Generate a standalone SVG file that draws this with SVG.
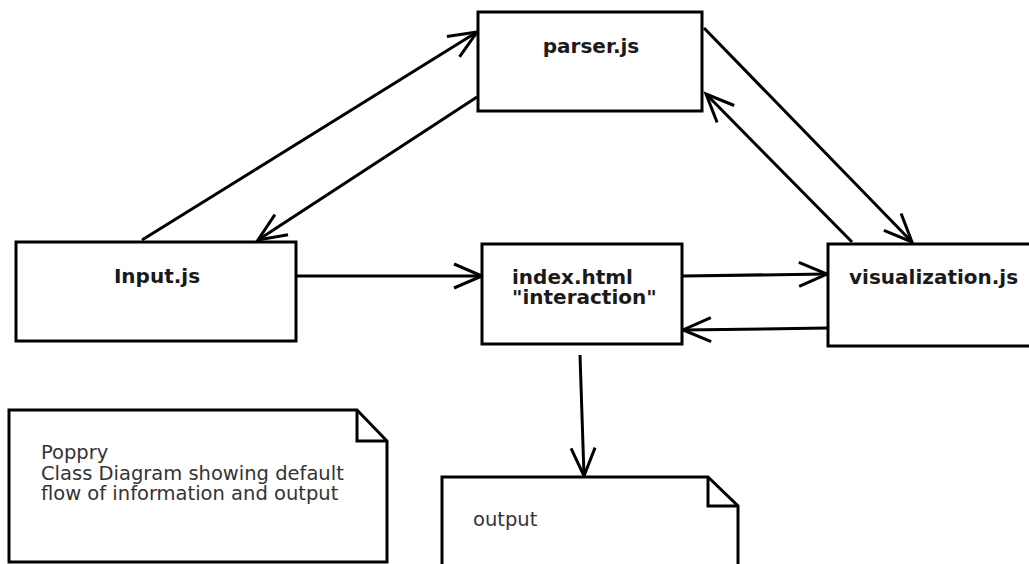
<svg xmlns="http://www.w3.org/2000/svg" width="1029" height="564" viewBox="0 0 1029 564">
  <style>
    .box { fill: #fff; stroke: #000; stroke-width: 3; }
    .fold { fill: none; stroke: #000; stroke-width: 3; stroke-linejoin: miter; }
    .title { font-family: "DejaVu Sans", sans-serif; font-size: 20px; font-weight: bold; fill: #1a1a1a; }
    .plain { font-family: "DejaVu Sans", sans-serif; font-size: 19.5px; fill: #333; }
    .link { fill: none; stroke: #000; stroke-width: 3; marker-end: url(#open); }
  </style>
  <defs>
    <marker id="open" markerUnits="userSpaceOnUse" markerWidth="40" markerHeight="40" viewBox="-36 -20 40 40" refX="0" refY="0" orient="auto" overflow="visible">
      <path d="M-28,-12 L0,0 L-28,12" fill="none" stroke="#000" stroke-width="3" stroke-linejoin="miter"/>
    </marker>
  </defs>

  <rect width="1029" height="564" fill="#fff"/>

  <!-- connectors -->
  <g id="connectors">
    <line class="link" x1="142" y1="240" x2="477" y2="32"/>
    <line class="link" x1="477" y1="97" x2="258" y2="240"/>
    <line class="link" x1="297" y1="276" x2="482" y2="276"/>
    <line class="link" x1="683" y1="276" x2="827" y2="274"/>
    <line class="link" x1="828" y1="328" x2="683" y2="330"/>
    <line class="link" x1="704" y1="28" x2="912" y2="242"/>
    <line class="link" x1="852" y1="242" x2="706" y2="94"/>
    <line class="link" x1="580" y1="355" x2="584" y2="476"/>
  </g>

  <g id="parser">
    <rect class="box" x="478" y="12" width="224" height="99"/>
    <text class="title" x="591" y="53" text-anchor="middle">parser.js</text>
  </g>

  <g id="input">
    <rect class="box" x="16" y="242" width="280" height="99"/>
    <text class="title" x="157" y="283" text-anchor="middle">Input.js</text>
  </g>

  <g id="index">
    <rect class="box" x="482" y="244" width="200" height="100"/>
    <text class="title" x="512" y="284">index.html</text>
    <text class="title" x="512" y="304">"interaction"</text>
  </g>

  <g id="visualization">
    <rect class="box" x="828" y="244" width="220" height="102"/>
    <text class="title" x="849" y="284">visualization.js</text>
  </g>

  <g id="note">
    <path class="box" d="M9,410 H357 L387,441 V562 H9 Z"/>
    <path class="fold" d="M357,410 V441 H387"/>
    <text class="plain" x="41" y="459">Poppry</text>
    <text class="plain" x="41" y="480">Class Diagram showing default</text>
    <text class="plain" x="41" y="500">flow of information and output</text>
  </g>

  <g id="output">
    <path class="box" d="M442,477 H708 L738,506 V580 H442 Z"/>
    <path class="fold" d="M708,477 V506 H738"/>
    <text class="plain" x="473" y="526">output</text>
  </g>
</svg>
